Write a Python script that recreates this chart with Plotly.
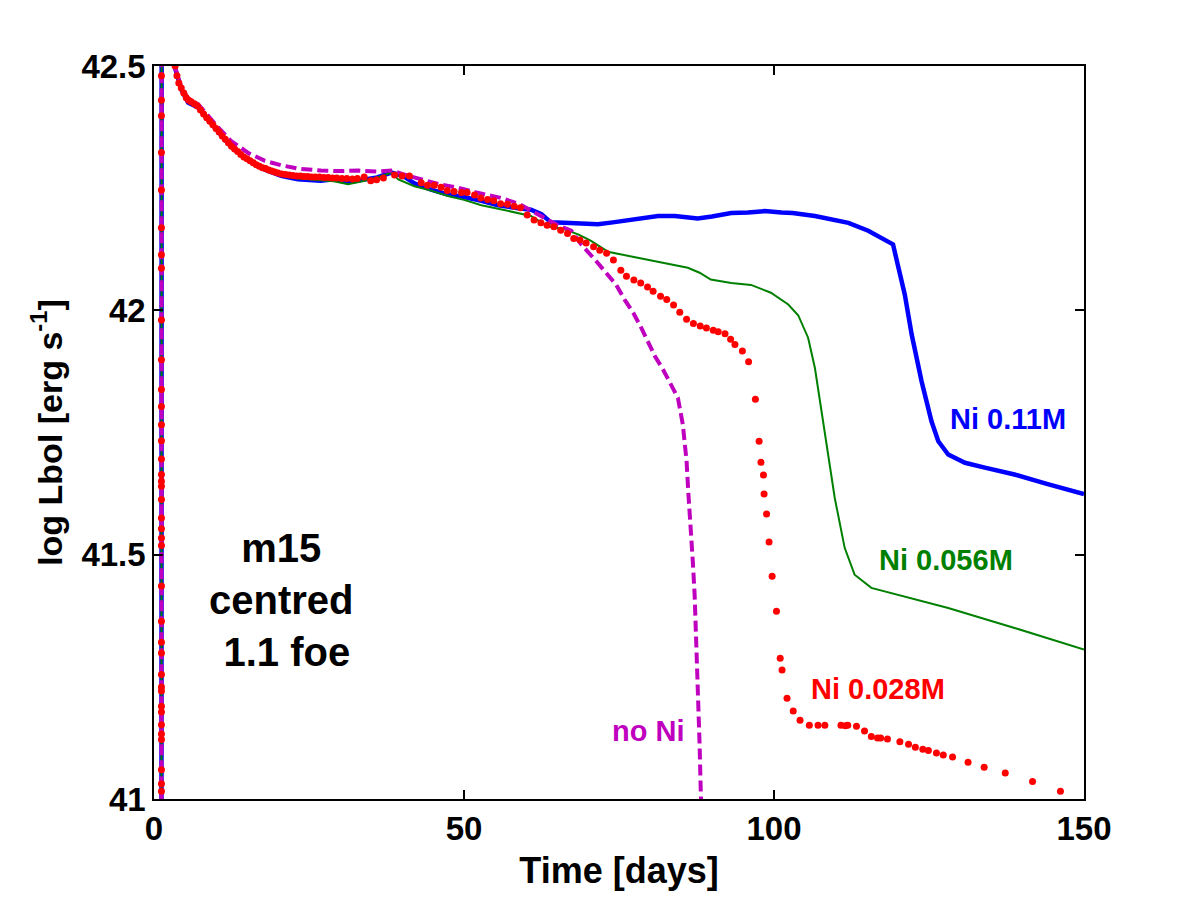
import plotly.graph_objects as go

# model light curves: time [days], log Lbol [erg/s]
ni011_day = [1.2, 1.25, 2.5, 3.3, 4.4, 5.5, 7.1, 8.7, 10.3, 12.4, 15.2, 17.9, 20.5, 23.2, 26.9, 29, 31.3,
             34, 36, 38.3, 40, 42, 44.7, 47.4, 50, 52.8, 55.5, 58.2, 60.8, 62.5, 64, 66.2, 68, 71.6, 74,
             77, 81.3, 84, 87.7, 90, 93.1, 95.8, 98.5, 101.2, 103, 106.6, 109, 112, 115.2, 118.4, 119.2,
             120, 121.1, 122.2, 123.8, 125.4, 126.5, 128.1, 130.8, 134, 138.8, 144, 150]
ni011_lum = [40.5, 43.5, 43.0, 42.5, 42.452, 42.425, 42.415, 42.39, 42.365, 42.335, 42.308, 42.288, 42.275,
             42.268, 42.265, 42.268, 42.262, 42.268, 42.272, 42.282, 42.276, 42.26, 42.247, 42.237, 42.232,
             42.224, 42.215, 42.21, 42.206, 42.197, 42.18, 42.179, 42.178, 42.176, 42.18, 42.186, 42.193,
             42.193, 42.188, 42.192, 42.199, 42.2, 42.203, 42.2, 42.199, 42.193, 42.187, 42.179, 42.163,
             42.142, 42.135, 42.091, 42.032, 41.951, 41.855, 41.773, 41.732, 41.705, 41.688, 41.678,
             41.664, 41.645, 41.624]

ni056_day = [1.2, 1.25, 2.5, 3.3, 4.4, 5.5, 7.1, 8.7, 10.3, 12.4, 15.2, 17.9, 20.5, 23.2, 26.9, 29, 31.3,
             34, 36, 38.3, 39.4, 42, 44.7, 47.4, 50, 52.8, 55.5, 58.2, 60.8, 63.5, 66.2, 68.5, 70.5, 72,
             73.2, 77, 82.4, 86.1, 88, 89.8, 93.1, 96.3, 99.5, 102.3, 103.9, 105.5, 106.6, 107.6, 108.7,
             109.8, 111.4, 113, 115.7, 120, 128.1, 138.8, 150]
ni056_lum = [40.5, 43.5, 43.0, 42.5, 42.455, 42.428, 42.418, 42.392, 42.368, 42.338, 42.31, 42.29, 42.276,
             42.27, 42.266, 42.264, 42.258, 42.265, 42.272, 42.282, 42.268, 42.254, 42.245, 42.234, 42.226,
             42.215, 42.208, 42.2, 42.193, 42.172, 42.166, 42.155, 42.142, 42.13, 42.12, 42.11, 42.097,
             42.087, 42.077, 42.063, 42.056, 42.052, 42.036, 42.012, 41.99, 41.944, 41.882, 41.8, 41.705,
             41.616, 41.514, 41.459, 41.432, 41.418, 41.391, 41.35, 41.306]

noni_day = [1.2, 1.25, 2.5, 3.3, 4.4, 5.5, 7.1, 8.7, 10.3, 12.4, 15.2, 17.9, 20.5, 23.2, 26.9, 30, 33, 36,
            38.5, 40, 43, 46, 49, 52, 56, 59, 62.4, 65, 67.3, 68.9, 71.1, 72.7, 74.5, 75.9, 77.3, 78.6,
            79.7, 80.8, 82.1, 83.4, 84.5, 85.3, 85.9, 86.2, 86.6, 86.9, 87.2, 87.5, 87.7, 88.0, 88.2, 88.4]
noni_lum = [40.5, 43.5, 43.0, 42.5, 42.458, 42.433, 42.422, 42.398, 42.375, 42.347, 42.322, 42.306, 42.297,
            42.29, 42.286, 42.285, 42.286, 42.284, 42.286, 42.279, 42.268, 42.258, 42.251, 42.241, 42.23,
            42.217, 42.193, 42.175, 42.163, 42.135, 42.104, 42.08, 42.053, 42.022, 41.995, 41.964, 41.934,
            41.906, 41.879, 41.848, 41.821, 41.766, 41.691, 41.623, 41.555, 41.487, 41.418, 41.316, 41.214,
            41.111, 41.009, 40.95]

ni028_day = [1.2] * 38 + [
    3.4, 3.7, 4.0, 4.4, 4.8, 5.2, 5.6, 6.0, 6.5, 7.0, 7.5, 8.0, 8.5, 9.0, 9.5, 10.0, 10.5, 11.0, 11.5,
    12.0, 12.5, 13.0, 13.5, 14.0, 14.5, 15.0, 15.5, 16.0, 16.5, 17.0, 17.5, 18.0, 18.5, 19.0, 19.5, 20.0,
    20.6, 21.2, 21.8, 22.4, 23.0, 23.6, 24.2, 24.8, 25.4, 26.0, 26.7, 27.4, 28.1, 28.8, 29.5, 30.3, 31.1,
    32.0, 32.8, 33.9, 34.95, 35.9, 37.0, 38.8, 40.0, 41.2, 43.1, 44.1, 45.2, 46.3, 47.3, 48.4, 49.6, 50.5,
    51.7, 52.7, 53.8, 54.8, 55.9, 57.0, 58.1, 59.1, 60.2, 61.3, 62.4, 63.4, 64.5, 65.6, 66.7, 67.7, 68.7,
    69.7, 70.9, 71.9, 73.0, 74.1, 75.3, 76.2, 77.4, 78.5, 79.6, 80.5, 81.7, 82.7, 83.8, 84.8, 85.9, 87.0,
    88.1, 89.1, 90.2, 91.0, 92.1, 93.0, 93.7, 94.9, 95.9, 97.0, 97.6, 97.9, 98.3, 98.4, 98.8, 99.2, 99.7,
    100.4, 101.0, 101.3, 102.1, 103.1, 104.2, 105.7, 107.1, 108.2, 110.8, 111.5, 111.9, 113.3, 114.6,
    115.7, 116.7, 117.2, 118.3, 120.3, 121.7, 122.8, 124.0, 124.9, 126.2, 127.3, 128.8, 131.3, 133.9,
    137.3, 141.7, 146.2]
ni028_lum = [
    42.48, 42.398, 42.323, 42.246, 42.169, 42.114, 42.086, 41.98, 41.899, 41.838, 41.803, 41.766, 41.733,
    41.696, 41.664, 41.65, 41.64, 41.613, 41.575, 41.553, 41.534, 41.519, 41.436, 41.364, 41.321, 41.299,
    41.255, 41.229, 41.221, 41.19, 41.178, 41.152, 41.133, 41.122, 41.06, 41.031, 41.016, 42.43,
    42.50, 42.48, 42.465, 42.455, 42.445, 42.435, 42.43, 42.427, 42.423, 42.418, 42.41, 42.402, 42.394,
    42.387, 42.38, 42.372, 42.365, 42.357, 42.35, 42.343, 42.336, 42.33, 42.325, 42.319, 42.314, 42.31,
    42.306, 42.302, 42.298, 42.295, 42.292, 42.29, 42.287, 42.285, 42.283, 42.281, 42.279, 42.278, 42.277,
    42.276, 42.275, 42.275, 42.274, 42.274, 42.273, 42.273, 42.273, 42.272, 42.272, 42.271, 42.271, 42.27,
    42.27, 42.269, 42.27, 42.273, 42.265, 42.267, 42.271, 42.277, 42.275, 42.275, 42.261, 42.256, 42.256,
    42.252, 42.245, 42.243, 42.241, 42.241, 42.236, 42.23, 42.227, 42.224, 42.218, 42.217, 42.213, 42.21,
    42.195, 42.185, 42.179, 42.174, 42.171, 42.164, 42.157, 42.147, 42.144, 42.138, 42.13, 42.123, 42.117,
    42.103, 42.082, 42.07, 42.062, 42.056, 42.048, 42.039, 42.029, 42.022, 42.011, 41.996, 41.982, 41.973,
    41.968, 41.964, 41.959, 41.956, 41.952, 41.941, 41.93, 41.917, 41.895, 41.818, 41.732, 41.689, 41.663,
    41.624, 41.583, 41.526, 41.456, 41.384, 41.288, 41.264, 41.206, 41.18, 41.161, 41.151, 41.151, 41.151,
    41.151, 41.15, 41.151, 41.149, 41.139, 41.128, 41.125, 41.125, 41.123, 41.117, 41.112, 41.106, 41.102,
    41.099, 41.094, 41.09, 41.086, 41.075, 41.065, 41.053, 41.036, 41.016]

x_ticks = [0, 50, 100, 150]
y_ticks = [41, 41.5, 42, 42.5]

BLUE = "#0000ff"
GREEN = "#008000"
RED = "#ff0000"
MAGENTA = "#bf00bf"
FONT = "Liberation Sans, Arial, sans-serif"

fig = go.Figure()
fig.add_trace(go.Scatter(x=ni011_day, y=ni011_lum, mode="lines",
                         line=dict(color=BLUE, width=4.5)))
fig.add_trace(go.Scatter(x=ni056_day, y=ni056_lum, mode="lines",
                         line=dict(color=GREEN, width=2)))
fig.add_trace(go.Scatter(x=noni_day, y=noni_lum, mode="lines",
                         line=dict(color=MAGENTA, width=4, dash="11px,5px")))
fig.add_trace(go.Scatter(x=ni028_day, y=ni028_lum, mode="markers",
                         marker=dict(color=RED, size=7, symbol="circle")))

label_font = dict(family=FONT, size=29)
fig.add_annotation(x=128, y=41.778, text="<b>Ni 0.11M</b>", showarrow=False, xanchor="left",
                   font=dict(label_font, color=BLUE))
fig.add_annotation(x=116.6, y=41.49, text="<b>Ni 0.056M</b>", showarrow=False, xanchor="left",
                   font=dict(label_font, color=GREEN))
fig.add_annotation(x=105.6, y=41.226, text="<b>Ni 0.028M</b>", showarrow=False, xanchor="left",
                   font=dict(label_font, color=RED))
fig.add_annotation(x=73.5, y=41.14, text="<b>no Ni</b>", showarrow=False, xanchor="left",
                   font=dict(label_font, color=MAGENTA))
fig.add_annotation(x=20.5, y=41.408, text="<b>m15<br>centred<br> 1.1 foe</b>", showarrow=False,
                   font=dict(family=FONT, size=40, color="black"))

axis_common = dict(showgrid=False, zeroline=False, showline=True, linecolor="black", linewidth=1.5,
                   mirror="ticks", ticks="inside", ticklen=9, tickcolor="black", tickwidth=1.5,
                   tickfont=dict(family=FONT, size=33, color="black"))

fig.update_layout(
    width=1200, height=900,
    margin=dict(l=146, r=124, t=58, b=109, autoexpand=False),
    paper_bgcolor="white", plot_bgcolor="white",
    showlegend=False,
    font=dict(family=FONT, color="black"),
    xaxis=dict(axis_common, range=[0, 150], tickvals=x_ticks,
               ticktext=["<b>%g</b>" % v for v in x_ticks],
               title=dict(text="<b>Time [days]</b>", font=dict(size=36), standoff=11)),
    yaxis=dict(axis_common, range=[41, 42.5], tickvals=y_ticks,
               ticktext=["<b>%g</b>" % v for v in y_ticks],
               title=dict(text="<b>log Lbol [erg s<sup>-1</sup>]</b>", font=dict(size=34), standoff=9)),
)

fig.write_html("out.html")
